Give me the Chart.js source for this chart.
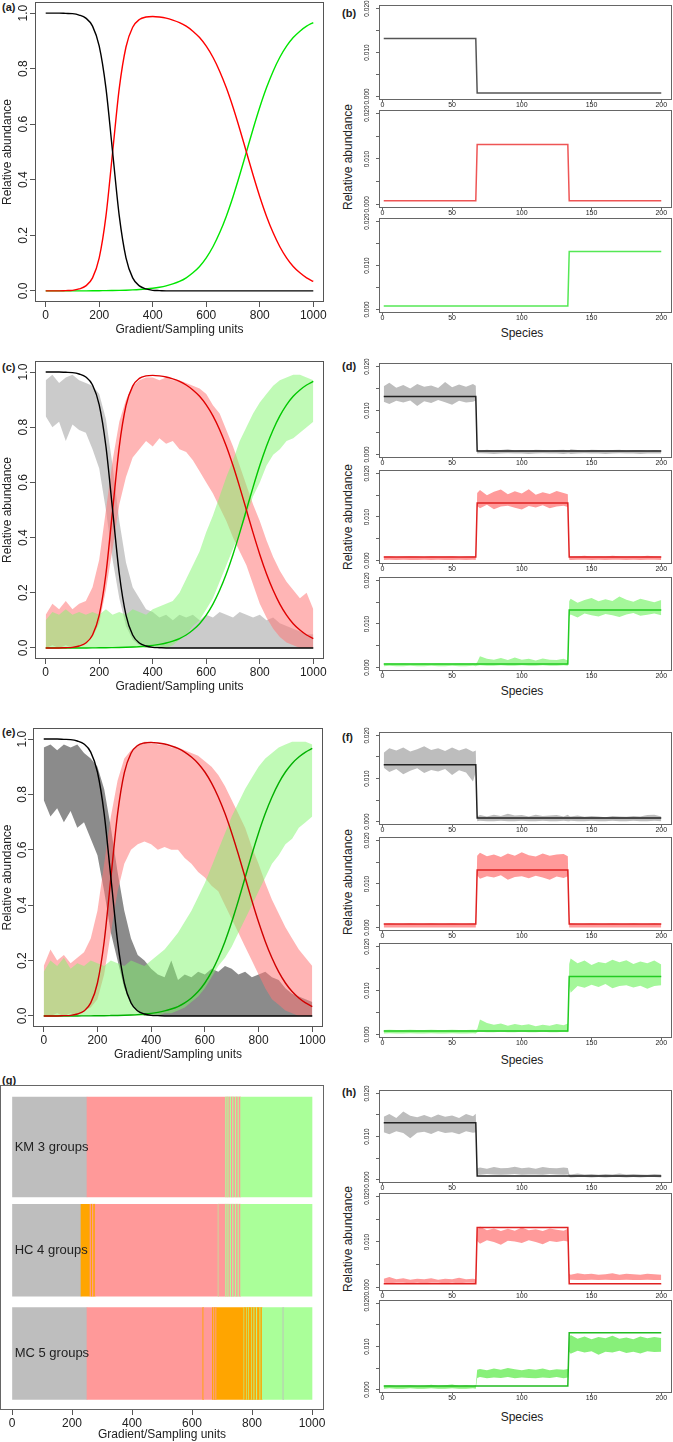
<!DOCTYPE html>
<html>
<head>
<meta charset="utf-8">
<title>Relative abundance along a gradient</title>
<script src="https://cdn.jsdelivr.net/npm/chart.js@4.4.1/dist/chart.umd.min.js"></script>
<style>
  body { margin: 0; width: 673px; height: 1442px; position: relative; overflow: hidden; background: #fff;
         font-family: "Liberation Sans", Arial, sans-serif; color: #222; }
  canvas { position: absolute; }
  .tag { position: absolute; font-size: 11px; font-weight: bold; line-height: 12px; }
  .lab { position: absolute; font-size: 12px; line-height: 14px; white-space: nowrap; transform: translateX(-50%); }
  .vlab { position: absolute; font-size: 12px; line-height: 14px; white-space: nowrap; transform: translate(-50%, -50%) rotate(-90deg); }
</style>
</head>
<body>
<div class="tag" style="left:2px;top:1px">(a)</div>
<div class="tag" style="left:342px;top:7px">(b)</div>
<div class="tag" style="left:2px;top:361px">(c)</div>
<div class="tag" style="left:342px;top:360px">(d)</div>
<div class="tag" style="left:2px;top:726px">(e)</div>
<div class="tag" style="left:342px;top:731px">(f)</div>
<div class="tag" style="left:2px;top:1074px">(g)</div>
<div class="tag" style="left:342px;top:1086px">(h)</div>

<div class="vlab" style="left:348px;top:157px">Relative abundance</div>
<div class="lab" style="left:522px;top:326px">Species</div>
<div class="vlab" style="left:348px;top:517px">Relative abundance</div>
<div class="lab" style="left:522px;top:684px">Species</div>
<div class="vlab" style="left:348px;top:882px">Relative abundance</div>
<div class="lab" style="left:522px;top:1053px">Species</div>
<div class="vlab" style="left:348px;top:1239px">Relative abundance</div>
<div class="lab" style="left:522px;top:1410px">Species</div>

<script>
'use strict';

// gradient (sampling units) and the three smooth species-group curves
let gradX = [0,25,50,75,100,125,150,175,200,225,250,275,300,325,350,375,400,425,450,475,500,525,550,575,600,625,650,675,700,725,750,775,800,825,850,875,900,925,950,975,1000];
let blackCurve = [1,1,1,0.999,0.998,0.993,0.982,0.953,0.881,0.731,0.5,0.269,0.119,0.047,0.018,0.007,0.002,0.001,0,0,0,0,0,0,0,0,0,0,0,0,0,0,0,0,0,0,0,0,0,0,0];
let redCurve = [0,0,0,0.001,0.002,0.007,0.018,0.047,0.119,0.268,0.499,0.73,0.878,0.949,0.977,0.986,0.988,0.986,0.982,0.975,0.966,0.953,0.935,0.912,0.881,0.841,0.791,0.731,0.661,0.583,0.5,0.417,0.339,0.269,0.209,0.159,0.119,0.088,0.065,0.047,0.034];
let greenCurve = [0,0,0,0,0,0,0.0001,0.0003,0.0007,0.0009,0.0013,0.0018,0.0025,0.0035,0.0048,0.0067,0.0093,0.013,0.018,0.025,0.034,0.047,0.065,0.088,0.119,0.159,0.209,0.269,0.339,0.417,0.5,0.583,0.661,0.731,0.791,0.841,0.881,0.912,0.935,0.953,0.966];

// (c) noisy samples: lower / upper envelope
let cGrayHi = [0.97,0.99,0.96,0.98,0.99,0.97,0.96,0.95,0.92,0.83,0.66,0.46,0.31,0.22,0.18,0.14,0.13,0.11,0.12,0.10,0.12,0.11,0.12,0.10,0.12,0.11,0.13,0.12,0.11,0.13,0.12,0.11,0.12,0.10,0.11,0.09,0.08,0.07,0.06,0.05,0.05];
let cGrayLo = [0.84,0.80,0.82,0.75,0.81,0.79,0.78,0.72,0.65,0.50,0.32,0.18,0.08,0.03,0.01,0,0,0,0,0,0,0,0,0,0,0,0,0,0,0,0,0,0,0,0,0,0,0,0,0,0];
let cPinkHi = [0.12,0.16,0.14,0.17,0.14,0.16,0.17,0.22,0.32,0.50,0.68,0.82,0.90,0.95,0.97,0.98,0.98,0.97,0.98,0.97,0.97,0.96,0.95,0.94,0.92,0.88,0.85,0.79,0.73,0.66,0.59,0.52,0.46,0.39,0.33,0.28,0.24,0.21,0.18,0.20,0.14];
let cPinkLo = [0,0.01,0,0.01,0,0.01,0.02,0.04,0.09,0.21,0.36,0.52,0.62,0.69,0.72,0.75,0.73,0.76,0.74,0.75,0.72,0.71,0.68,0.64,0.60,0.56,0.51,0.46,0.40,0.35,0.30,0.23,0.16,0.11,0.07,0.04,0.02,0.01,0,0,0];
let cGreenHi = [0.10,0.13,0.12,0.14,0.12,0.13,0.12,0.13,0.12,0.14,0.12,0.13,0.12,0.14,0.13,0.12,0.14,0.15,0.16,0.17,0.20,0.25,0.30,0.35,0.42,0.48,0.55,0.62,0.68,0.75,0.80,0.85,0.89,0.92,0.95,0.97,0.98,0.99,0.99,0.98,0.97];
let cGreenLo = [0,0,0,0,0,0,0,0,0,0,0,0,0,0,0,0,0,0,0,0.01,0.03,0.05,0.08,0.10,0.14,0.18,0.24,0.30,0.36,0.42,0.48,0.55,0.60,0.66,0.70,0.72,0.75,0.76,0.78,0.80,0.82];

// (e) noisier samples
let eGrayHi = [0.97,0.98,0.96,0.98,0.97,0.98,0.95,0.93,0.90,0.82,0.68,0.52,0.38,0.28,0.22,0.20,0.17,0.15,0.14,0.20,0.13,0.15,0.14,0.16,0.15,0.17,0.16,0.18,0.17,0.15,0.16,0.14,0.15,0.16,0.14,0.13,0.10,0.08,0.07,0.06,0.05];
let eGrayLo = [0.78,0.72,0.75,0.70,0.74,0.68,0.70,0.64,0.58,0.45,0.30,0.20,0.10,0.05,0.02,0,0,0,0,0,0,0,0,0,0,0,0,0,0,0,0,0,0,0,0,0,0,0,0,0,0];
let ePinkHi = [0.18,0.24,0.20,0.22,0.19,0.21,0.23,0.28,0.38,0.55,0.72,0.85,0.93,0.96,0.98,0.99,0.99,0.98,0.98,0.97,0.97,0.96,0.95,0.94,0.92,0.90,0.87,0.83,0.78,0.73,0.68,0.61,0.55,0.48,0.42,0.37,0.32,0.28,0.24,0.21,0.18];
let ePinkLo = [0,0,0.01,0,0.01,0,0.02,0.03,0.06,0.15,0.30,0.45,0.55,0.60,0.62,0.63,0.62,0.60,0.61,0.60,0.60,0.57,0.55,0.52,0.50,0.47,0.45,0.40,0.35,0.30,0.25,0.20,0.15,0.10,0.06,0.04,0.02,0.01,0,0,0];
let eGreenHi = [0.16,0.20,0.18,0.21,0.17,0.19,0.18,0.20,0.19,0.18,0.20,0.19,0.18,0.20,0.19,0.18,0.20,0.22,0.24,0.27,0.30,0.34,0.38,0.43,0.48,0.54,0.60,0.66,0.72,0.77,0.82,0.86,0.90,0.93,0.95,0.97,0.98,0.99,0.99,0.99,0.98];
let eGreenLo = [0,0,0,0,0,0,0,0,0,0,0,0,0,0,0,0,0,0,0.01,0.01,0.02,0.03,0.05,0.07,0.10,0.14,0.18,0.21,0.25,0.30,0.35,0.40,0.45,0.50,0.55,0.58,0.62,0.64,0.68,0.70,0.72];

// species profiles (right column)
let speciesX = [1,5,10,15,20,25,30,35,40,45,50,55,60,65,67,68,70,75,80,85,90,95,100,105,110,115,120,125,130,133,134,135,140,145,150,155,160,165,170,175,180,185,190,195,200];
let blackStepX = [1,67,68,200];
let blackStepY = [0.0132,0.0132,0.0008,0.0008];
let redStepX = [1,67,68,133,134,200];
let redStepY = [0.0008,0.0008,0.0132,0.0132,0.0008,0.0008];
let greenStepX = [1,133,134,200];
let greenStepY = [0.0008,0.0008,0.0132,0.0132];

let dGrayHi = [0.0155,0.0163,0.0152,0.0158,0.0150,0.0160,0.0154,0.0157,0.0151,0.0165,0.0153,0.0159,0.0154,0.0160,0.0156, 0.0010,0.0009,0.0011,0.0009,0.0010,0.0012,0.0009,0.0010,0.0009,0.0011,0.0010,0.0009,0.0010,0.0011,0.0009, 0.0009,0.0012,0.0010,0.0009,0.0011,0.0010,0.0009,0.0010,0.0011,0.0009,0.0010,0.0010,0.0009,0.0010,0.0009];
let dGrayLo = [0.0120,0.0115,0.0122,0.0118,0.0123,0.0110,0.0121,0.0117,0.0124,0.0119,0.0113,0.0122,0.0118,0.0120,0.0123, 0.0002,0.0003,0.0002,0.0001,0.0002,0.0003,0.0002,0.0002,0.0001,0.0002,0.0003,0.0002,0.0002,0.0001,0.0002, 0.0002,0.0001,0.0002,0.0003,0.0002,0.0002,0.0001,0.0002,0.0003,0.0002,0.0002,0.0001,0.0002,0.0002,0.0002];
let dRedHi = [0.0009,0.0010,0.0008,0.0009,0.0010,0.0009,0.0008,0.0010,0.0009,0.0009,0.0010,0.0008,0.0009,0.0010,0.0009, 0.0155,0.0162,0.0150,0.0158,0.0163,0.0152,0.0159,0.0154,0.0164,0.0151,0.0157,0.0153,0.0160,0.0155,0.0152, 0.0010,0.0009,0.0010,0.0011,0.0009,0.0010,0.0009,0.0011,0.0010,0.0009,0.0010,0.0009,0.0011,0.0010,0.0009];
let dRedLo = [0.0001,0.0002,0.0001,0.0002,0.0001,0.0001,0.0002,0.0001,0.0002,0.0001,0.0001,0.0002,0.0001,0.0002,0.0001, 0.0125,0.0120,0.0128,0.0118,0.0124,0.0126,0.0121,0.0117,0.0125,0.0122,0.0127,0.0120,0.0124,0.0126,0.0123, 0.0002,0.0001,0.0002,0.0002,0.0001,0.0002,0.0001,0.0002,0.0002,0.0001,0.0002,0.0001,0.0002,0.0002,0.0001];
let dGreenHi = [0.0009,0.0010,0.0009,0.0010,0.0009,0.0009,0.0010,0.0009,0.0010,0.0009,0.0009,0.0010,0.0009,0.0010,0.0009, 0.0012,0.0026,0.0020,0.0018,0.0022,0.0017,0.0023,0.0018,0.0020,0.0016,0.0021,0.0018,0.0017,0.0020,0.0016, 0.0152,0.0158,0.0149,0.0155,0.0160,0.0152,0.0157,0.0153,0.0163,0.0156,0.0151,0.0158,0.0154,0.0150,0.0155];
let dGreenLo = [0.0003,0.0004,0.0003,0.0003,0.0004,0.0003,0.0003,0.0004,0.0003,0.0003,0.0004,0.0003,0.0003,0.0004,0.0003, 0.0004,0.0005,0.0004,0.0004,0.0005,0.0004,0.0004,0.0005,0.0004,0.0004,0.0005,0.0004,0.0004,0.0005,0.0004, 0.0118,0.0122,0.0115,0.0124,0.0120,0.0117,0.0123,0.0120,0.0116,0.0122,0.0125,0.0119,0.0121,0.0124,0.0120];

let fGrayHi = [0.0160,0.0170,0.0165,0.0172,0.0163,0.0168,0.0175,0.0166,0.0170,0.0164,0.0172,0.0165,0.0170,0.0162,0.0165, 0.0012,0.0015,0.0012,0.0016,0.0013,0.0018,0.0014,0.0015,0.0012,0.0016,0.0013,0.0014,0.0015,0.0012,0.0016, 0.0013,0.0012,0.0014,0.0011,0.0013,0.0012,0.0010,0.0013,0.0012,0.0011,0.0013,0.0012,0.0015,0.0016,0.0012];
let fGrayLo = [0.0125,0.0115,0.0122,0.0110,0.0118,0.0124,0.0113,0.0120,0.0116,0.0122,0.0108,0.0119,0.0114,0.0093,0.0115, 0.0001,0.0002,0.0001,0.0001,0.0002,0.0001,0.0001,0.0002,0.0001,0.0001,0.0002,0.0001,0.0001,0.0002,0.0001, 0.0001,0.0002,0.0001,0.0001,0.0002,0.0001,0.0001,0.0002,0.0001,0.0001,0.0002,0.0001,0.0001,0.0002,0.0001];
let fRedHi = [0.0008,0.0009,0.0008,0.0008,0.0009,0.0008,0.0008,0.0009,0.0008,0.0008,0.0009,0.0008,0.0008,0.0009,0.0008, 0.0165,0.0172,0.0164,0.0168,0.0162,0.0170,0.0165,0.0173,0.0166,0.0163,0.0170,0.0165,0.0168,0.0169,0.0164, 0.0008,0.0009,0.0008,0.0008,0.0009,0.0008,0.0008,0.0009,0.0008,0.0008,0.0009,0.0008,0.0008,0.0009,0.0008];
let fRedLo = [0,0,0,0,0,0,0,0,0,0,0,0,0,0,0, 0.0120,0.0112,0.0118,0.0115,0.0120,0.0110,0.0116,0.0118,0.0113,0.0119,0.0115,0.0110,0.0117,0.0114,0.0118, 0,0,0,0,0,0,0,0,0,0,0,0,0,0,0];
let fGreenHi = [0.0010,0.0011,0.0010,0.0010,0.0011,0.0010,0.0010,0.0011,0.0010,0.0010,0.0011,0.0010,0.0010,0.0011,0.0010, 0.0012,0.0034,0.0026,0.0022,0.0025,0.0020,0.0024,0.0021,0.0023,0.0019,0.0022,0.0020,0.0024,0.0021,0.0025, 0.0160,0.0173,0.0162,0.0168,0.0158,0.0165,0.0162,0.0170,0.0164,0.0169,0.0160,0.0166,0.0162,0.0168,0.0159];
let fGreenLo = [0.0002,0.0003,0.0002,0.0002,0.0003,0.0002,0.0002,0.0003,0.0002,0.0002,0.0003,0.0002,0.0002,0.0003,0.0002, 0.0005,0.0006,0.0005,0.0005,0.0006,0.0005,0.0005,0.0006,0.0005,0.0005,0.0006,0.0005,0.0005,0.0006,0.0005, 0.0112,0.0095,0.0110,0.0106,0.0113,0.0108,0.0115,0.0105,0.0110,0.0112,0.0107,0.0111,0.0104,0.0110,0.0112];

let hGrayHi = [0.0146,0.0152,0.0143,0.0158,0.0148,0.0145,0.0150,0.0144,0.0151,0.0146,0.0149,0.0143,0.0152,0.0147,0.0153, 0.0026,0.0028,0.0025,0.0029,0.0026,0.0027,0.0030,0.0026,0.0028,0.0025,0.0029,0.0027,0.0026,0.0028,0.0027, 0.0013,0.0012,0.0014,0.0012,0.0013,0.0011,0.0013,0.0012,0.0014,0.0012,0.0013,0.0012,0.0011,0.0013,0.0012];
let hGrayLo = [0.0110,0.0105,0.0112,0.0108,0.0096,0.0109,0.0111,0.0106,0.0113,0.0108,0.0110,0.0105,0.0112,0.0109,0.0110, 0.0012,0.0011,0.0013,0.0012,0.0011,0.0012,0.0013,0.0011,0.0012,0.0012,0.0011,0.0013,0.0012,0.0011,0.0012, 0.0006,0.0005,0.0006,0.0006,0.0005,0.0006,0.0005,0.0006,0.0006,0.0005,0.0006,0.0005,0.0006,0.0006,0.0005];
let hRedHi = [0.0019,0.0023,0.0018,0.0020,0.0017,0.0019,0.0018,0.0020,0.0017,0.0019,0.0018,0.0021,0.0018,0.0019,0.0018, 0.0127,0.0134,0.0126,0.0130,0.0124,0.0129,0.0125,0.0132,0.0126,0.0128,0.0124,0.0130,0.0127,0.0125,0.0129, 0.0030,0.0028,0.0031,0.0029,0.0030,0.0028,0.0029,0.0031,0.0028,0.0030,0.0029,0.0028,0.0030,0.0029,0.0028];
let hRedLo = [0.0010,0.0009,0.0010,0.0010,0.0009,0.0010,0.0009,0.0010,0.0010,0.0009,0.0010,0.0009,0.0010,0.0010,0.0009, 0.0102,0.0096,0.0104,0.0100,0.0094,0.0103,0.0101,0.0098,0.0104,0.0100,0.0095,0.0102,0.0100,0.0103,0.0101, 0.0016,0.0017,0.0016,0.0016,0.0017,0.0016,0.0017,0.0016,0.0016,0.0017,0.0016,0.0016,0.0017,0.0016,0.0016];
let hGreenHi = [0.0009,0.0010,0.0008,0.0009,0.0010,0.0008,0.0009,0.0011,0.0009,0.0010,0.0012,0.0009,0.0010,0.0009,0.0010, 0.0046,0.0048,0.0045,0.0049,0.0046,0.0050,0.0047,0.0045,0.0048,0.0046,0.0049,0.0045,0.0047,0.0046,0.0048, 0.0119,0.0127,0.0118,0.0123,0.0117,0.0122,0.0119,0.0125,0.0118,0.0121,0.0117,0.0123,0.0119,0.0122,0.0120];
let hGreenLo = [0.0002,0.0003,0.0002,0.0002,0.0003,0.0002,0.0002,0.0003,0.0002,0.0002,0.0003,0.0002,0.0002,0.0003,0.0002, 0.0027,0.0029,0.0026,0.0028,0.0027,0.0029,0.0026,0.0028,0.0027,0.0026,0.0028,0.0027,0.0029,0.0026,0.0028, 0.0088,0.0083,0.0090,0.0086,0.0089,0.0081,0.0088,0.0086,0.0090,0.0085,0.0088,0.0084,0.0089,0.0087,0.0088];

// (g) cluster assignment along the gradient: segment edges and group ids
let methodNames = ['KM 3 groups', 'HC 4 groups', 'MC 5 groups'];
let kmEdges = [0,250,712,716,719,723,727,731,735,739,744,748,753,757,762,1000];
let kmGroups = [1,2,3,2,3,2,3,2,3,2,3,2,3,2,3];
let hcEdges = [0,230,260,264,268,272,277,687,689,712,716,719,723,727,731,735,739,744,748,753,757,762,1000];
let hcGroups = [1,4,2,4,2,4,2,3,2,3,2,3,2,3,2,3,2,3,2,3,2,3];
let mcEdges = [0,250,636,639,668,672,675,679,682,773,775,781,783,789,791,798,800,806,809,815,818,826,829,834,903,906,1000];
let mcGroups = [1,2,4,2,4,2,4,2,4,3,4,3,4,3,4,3,4,3,4,3,4,3,4,3,1,3];

// tick values
let gradTicks = [0,200,400,600,800,1000];
let relTicks = [0,0.2,0.4,0.6,0.8,1];
let spTicks = [0,50,100,150,200];
let abTicks = [0,0.005,0.01,0.015,0.02];

const FONT = '"Liberation Sans", Arial, sans-serif';
Chart.defaults.font.family = FONT;
Chart.defaults.color = '#222';

const groupColors = { 1: '#bebebe', 2: '#ff9999', 3: '#aaff99', 4: '#ffa500' };

const framePlugin = {
  id: 'frame',
  defaults: { color: '#555' },
  afterDatasetsDraw(chart, args, opts) {
    let a = chart.chartArea;
    let ctx = chart.ctx;
    ctx.save();
    ctx.strokeStyle = opts.color;
    ctx.lineWidth = 1;
    ctx.strokeRect(Math.round(a.left) + 0.5, Math.round(a.top) + 0.5,
      Math.round(a.right - a.left) - 1, Math.round(a.bottom - a.top) - 1);
    ctx.restore();
  }
};
Chart.register(framePlugin);

function pts(xs, ys) {
  return xs.map((x, i) => ({ x: x, y: ys[i] }));
}

function addCanvas(r) {
  let c = document.createElement('canvas');
  c.width = r.w;
  c.height = r.h;
  c.style.left = r.l + 'px';
  c.style.top = r.t + 'px';
  c.style.width = r.w + 'px';
  c.style.height = r.h + 'px';
  document.body.appendChild(c);
  return c;
}

// canvas rect r, plot frame b (page coordinates)
function fitTo(r, b) {
  return {
    padding: { left: 0, top: b.t - r.t, right: r.l + r.w - b.r, bottom: 0 },
    yw: b.l - r.l,
    xh: r.t + r.h - b.b
  };
}

function bandSets(xs, bands) {
  let out = [];
  bands.forEach((bd, k) => {
    out.push({ data: pts(xs, bd.lo), borderColor: 'rgba(0,0,0,0)', borderWidth: 0, fill: false, order: 20 - k });
    out.push({ data: pts(xs, bd.hi), borderColor: 'rgba(0,0,0,0)', borderWidth: 0, fill: '-1', backgroundColor: bd.col, order: 20 - k });
  });
  return out;
}

function gradientPanel(r, b, bands, cols, yPad) {
  let f = fitTo(r, b);
  let ds = [
    { data: pts(gradX, blackCurve), borderColor: cols[0], borderWidth: 1.4, cubicInterpolationMode: 'monotone', order: 0 },
    { data: pts(gradX, redCurve), borderColor: cols[1], borderWidth: 1.4, cubicInterpolationMode: 'monotone', order: 0 },
    { data: pts(gradX, greenCurve), borderColor: cols[2], borderWidth: 1.4, cubicInterpolationMode: 'monotone', order: 0 }
  ].concat(bandSets(gradX, bands));
  new Chart(addCanvas(r), {
    type: 'line',
    data: { datasets: ds },
    options: {
      responsive: false, animation: false, devicePixelRatio: 1,
      layout: { padding: f.padding },
      elements: { point: { radius: 0 }, line: { tension: 0 } },
      plugins: { legend: { display: false }, tooltip: { enabled: false } },
      scales: {
        x: {
          type: 'linear', min: -40, max: 1040,
          afterBuildTicks: s => { s.ticks = gradTicks.map(v => ({ value: v })); },
          afterFit: s => { s.height = f.xh; s.paddingLeft = 0; s.paddingRight = 0; },
          grid: { drawOnChartArea: false, tickLength: 5, color: '#555' },
          border: { display: false },
          ticks: { maxRotation: 0, autoSkip: false, padding: 1, font: { size: 12 }, callback: v => String(v) },
          title: { display: true, text: 'Gradient/Sampling units', font: { size: 12 }, padding: 0 }
        },
        y: {
          min: -0.04, max: 1.04,
          afterBuildTicks: s => { s.ticks = relTicks.map(v => ({ value: v })); },
          afterFit: s => { s.width = f.yw; s.paddingTop = 0; s.paddingBottom = 0; },
          grid: { drawOnChartArea: false, tickLength: 5, color: '#555' },
          border: { display: false },
          ticks: { minRotation: 90, maxRotation: 90, crossAlign: 'center', autoSkip: false, padding: yPad, font: { size: 12 }, callback: v => v.toFixed(1) },
          title: { display: true, text: 'Relative abundance', font: { size: 12 }, padding: 0 }
        }
      }
    }
  });
}

function speciesPanel(b, band, stepX, stepY, lineCol) {
  let r = { l: 355, w: 318, t: b.t - 10, h: b.b - b.t + 19 };
  let f = fitTo(r, b);
  let ds = [{ data: pts(stepX, stepY), borderColor: lineCol, borderWidth: 1.5, order: 0 }];
  if (band) ds = ds.concat(bandSets(speciesX, [band]));
  new Chart(addCanvas(r), {
    type: 'line',
    data: { datasets: ds },
    options: {
      responsive: false, animation: false, devicePixelRatio: 1,
      layout: { padding: f.padding },
      elements: { point: { radius: 0 }, line: { tension: 0 } },
      plugins: { legend: { display: false }, tooltip: { enabled: false }, frame: { color: '#666' } },
      scales: {
        x: {
          type: 'linear', min: -2.4, max: 207.7,
          afterBuildTicks: s => { s.ticks = spTicks.map(v => ({ value: v })); },
          afterFit: s => { s.height = f.xh; s.paddingLeft = 0; s.paddingRight = 0; },
          grid: { drawOnChartArea: false, tickLength: 2, color: '#666' },
          border: { display: false },
          ticks: { maxRotation: 0, autoSkip: false, padding: -1, font: { size: 7 }, callback: v => String(v) }
        },
        y: {
          min: -0.0008, max: 0.0208,
          afterBuildTicks: s => { s.ticks = abTicks.map(v => ({ value: v })); },
          afterFit: s => { s.width = f.yw; s.paddingTop = 0; s.paddingBottom = 0; },
          grid: { drawOnChartArea: false, tickLength: 3, color: '#666' },
          border: { display: false },
          ticks: { minRotation: 90, maxRotation: 90, crossAlign: 'center', autoSkip: false, padding: 1, font: { size: 6.5 },
                   callback: v => (Math.round(v * 1000) % 10 === 0 ? v.toFixed(3) : '') }
        }
      }
    }
  });
}

// left column
gradientPanel({ l: 0, t: 0, w: 330, h: 337 }, { l: 35, r: 324, t: 2, b: 302 }, [],
  ['#000000', '#ff0000', '#00e600'], -2);
gradientPanel({ l: 0, t: 358, w: 330, h: 336 }, { l: 35, r: 324, t: 361, b: 659 }, [
  { lo: cGrayLo, hi: cGrayHi, col: 'rgba(185,185,185,0.75)' },
  { lo: cPinkLo, hi: cPinkHi, col: 'rgba(255,120,120,0.55)' },
  { lo: cGreenLo, hi: cGreenHi, col: 'rgba(130,245,110,0.5)' }
], ['#000000', '#e00000', '#00c800'], -2);
gradientPanel({ l: 0, t: 722, w: 330, h: 340 }, { l: 33, r: 323, t: 728, b: 1027 }, [
  { lo: eGrayLo, hi: eGrayHi, col: 'rgba(100,100,100,0.75)' },
  { lo: ePinkLo, hi: ePinkHi, col: 'rgba(255,120,120,0.55)' },
  { lo: eGreenLo, hi: eGreenHi, col: 'rgba(130,245,110,0.5)' }
], ['#000000', '#d00000', '#00b000'], -3);

// (g) cluster bars
let rowLabelPlugin = {
  id: 'rowLabels',
  afterDatasetsDraw(chart) {
    let ctx = chart.ctx;
    let xs = chart.scales.x;
    let ys = chart.scales.y;
    ctx.save();
    ctx.font = '13px ' + FONT;
    ctx.fillStyle = '#222';
    ctx.textBaseline = 'middle';
    methodNames.forEach((t, i) => ctx.fillText(t, xs.getPixelForValue(9), ys.getPixelForValue(i)));
    ctx.restore();
  }
};

(function () {
  let r = { l: 0, t: 1078, w: 330, h: 364 };
  let b = { l: 0, r: 324, t: 1085, b: 1410 };
  let f = fitTo(r, b);
  let rows = [[kmEdges, kmGroups], [hcEdges, hcGroups], [mcEdges, mcGroups]];
  let thick = [100, 92, 92];
  new Chart(addCanvas(r), {
    type: 'bar',
    data: {
      datasets: rows.map((row, i) => ({
        data: row[1].map((g, j) => ({ y: i, x: [row[0][j], row[0][j + 1]] })),
        backgroundColor: row[1].map(g => groupColors[g]),
        grouped: false, barThickness: thick[i], borderWidth: 0
      }))
    },
    options: {
      indexAxis: 'y',
      responsive: false, animation: false, devicePixelRatio: 1,
      layout: { padding: f.padding },
      plugins: { legend: { display: false }, tooltip: { enabled: false }, frame: { color: '#666' } },
      scales: {
        x: {
          type: 'linear', min: -40, max: 1040,
          afterBuildTicks: s => { s.ticks = gradTicks.map(v => ({ value: v })); },
          afterFit: s => { s.height = f.xh; s.paddingLeft = 0; s.paddingRight = 0; },
          grid: { drawOnChartArea: false, tickLength: 5, color: '#555' },
          border: { display: false },
          ticks: { maxRotation: 0, autoSkip: false, padding: 1, font: { size: 12 }, callback: v => String(v) },
          title: { display: true, text: 'Gradient/Sampling units', font: { size: 12 }, padding: 0 }
        },
        y: { type: 'linear', min: -0.6, max: 2.547, reverse: true, offset: false, display: false }
      }
    },
    plugins: [rowLabelPlugin]
  });
})();

// right column
speciesPanel({ l: 379, r: 672, t: 5, b: 100 }, null, blackStepX, blackStepY, '#555555');
speciesPanel({ l: 379, r: 672, t: 110, b: 208 }, null, redStepX, redStepY, '#ee5555');
speciesPanel({ l: 379, r: 672, t: 218, b: 313 }, null, greenStepX, greenStepY, '#55e855');

speciesPanel({ l: 379, r: 672, t: 363, b: 458 }, { lo: dGrayLo, hi: dGrayHi, col: '#bdbdbd' }, blackStepX, blackStepY, '#222222');
speciesPanel({ l: 379, r: 672, t: 470, b: 564 }, { lo: dRedLo, hi: dRedHi, col: '#ff9a9a' }, redStepX, redStepY, '#e02222');
speciesPanel({ l: 379, r: 672, t: 577, b: 671 }, { lo: dGreenLo, hi: dGreenHi, col: '#a4f79a' }, greenStepX, greenStepY, '#22cc22');

speciesPanel({ l: 379, r: 672, t: 732, b: 825 }, { lo: fGrayLo, hi: fGrayHi, col: '#bdbdbd' }, blackStepX, blackStepY, '#222222');
speciesPanel({ l: 379, r: 672, t: 837, b: 931 }, { lo: fRedLo, hi: fRedHi, col: '#ff9a9a' }, redStepX, redStepY, '#e02222');
speciesPanel({ l: 379, r: 672, t: 943, b: 1038 }, { lo: fGreenLo, hi: fGreenHi, col: '#a4f79a' }, greenStepX, greenStepY, '#22cc22');

speciesPanel({ l: 379, r: 672, t: 1090, b: 1183 }, { lo: hGrayLo, hi: hGrayHi, col: '#bdbdbd' }, blackStepX, blackStepY, '#222222');
speciesPanel({ l: 379, r: 672, t: 1193, b: 1291 }, { lo: hRedLo, hi: hRedHi, col: '#ff9a9a' }, redStepX, redStepY, '#e02222');
speciesPanel({ l: 379, r: 672, t: 1300, b: 1393 }, { lo: hGreenLo, hi: hGreenHi, col: '#88f07a' }, greenStepX, greenStepY, '#22bb22');
</script>
</body>
</html>
